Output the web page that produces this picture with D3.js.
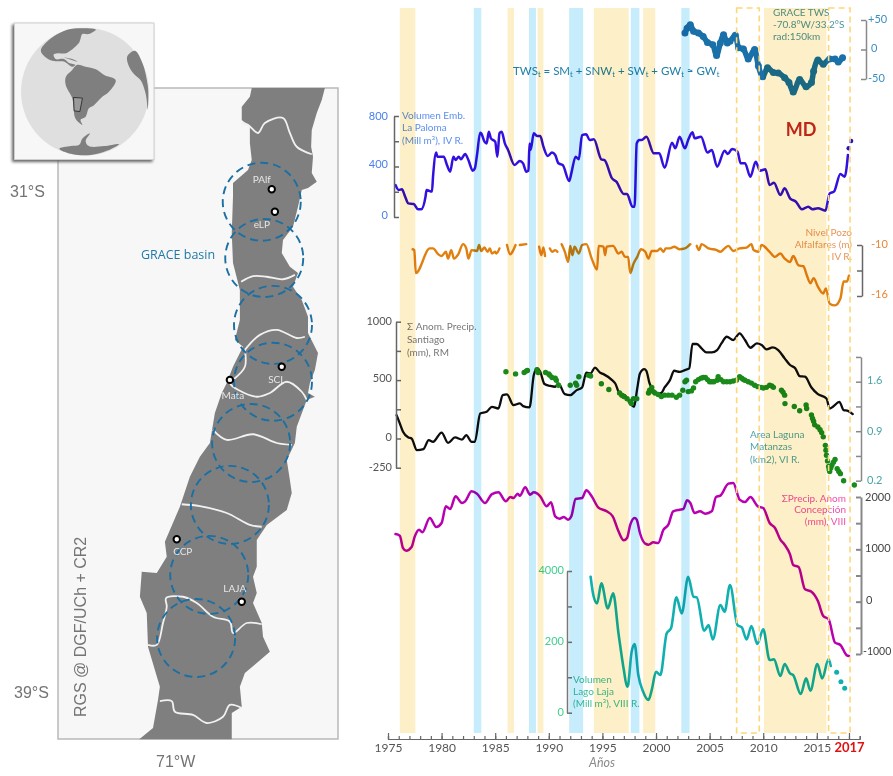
<!DOCTYPE html>
<html><head><meta charset="utf-8">
<script src="https://cdn.jsdelivr.net/npm/d3@7/dist/d3.min.js"></script>
<style>html,body{margin:0;padding:0;background:#fff}svg{display:block;filter:blur(0.4px)}text{font-family:Lato,"Open Sans",sans-serif}</style>
</head><body><div id="c"></div>
<script>
// ---------- time-series data (year, value) ----------
const palomaYears=[1975.7,1976,1976.3,1976.6,1976.9,1977.4,1977.8,1978.1,1978.5,1978.6,1979.1,1979.2,1979.5,1979.6,1980.2,1980.5,1980.8,1981.1,1981.3,1981.6,1981.8,1982.2,1982.5,1982.9,1983.1,1983.3,1983.6,1983.7,1984,1984.2,1984.4,1984.6,1985,1985.2,1985.4,1985.6,1985.9,1986.2,1986.8,1987.3,1987.6,1987.9,1988.1,1988.2,1988.3,1988.6,1988.9,1989.2,1989.5,1989.9,1990.3,1990.6,1990.9,1991.3,1991.9,1992.1,1992.5,1992.8,1993.1,1993.5,1993.8,1994.2,1994.9,1995.2,1995.9,1996.3,1997,1997.3,1997.8,1998,1998.2,1998.45,1998.66,1999.1,1999.8,2000.3,2000.8,2001.5,2001.8,2002.2,2002.7,2003,2003.4,2003.6,2004.2,2004.8,2005.2,2005.7,2006.4,2006.7,2007.1,2007.6,2007.9,2008.3,2008.8,2009.3,2009.7,2010.2,2010.6,2011,2011.6,2012,2012.5,2013.05,2013.6,2014.2,2014.6,2015.1,2015.8,2016.2,2016.6,2017.2,2017.6,2017.9];
const palomaValues=[253,214,219,161,108,103,61,61,161,214,201,319,510,478,478,412,359,478,451,478,457,499,451,367,385,491,668,663,597,583,676,623,597,478,663,676,583,531,412,444,425,359,367,583,531,663,642,642,557,483,510,491,425,412,285,346,478,457,649,655,610,615,457,451,306,280,182,182,82,82,583,610,610,636,504,504,391,589,544,636,544,610,671,623,636,510,531,399,525,499,539,517,425,425,319,438,367,378,253,272,174,227,148,121,61,82,61,69,50,187,201,341,319,491];
const palomaDotYears=[2017.97,2018.2];
const palomaDotValues=[544,602];

const wellYears=[1977.3,1977.45,1977.6,1978.9,1979.2,1979.7,1980,1980.4,1980.6,1980.9,1981.15,1981.55,1982,1982.3,1982.5,1982.8,1983.3,1983.5,1983.7,1984,1984.3,1984.5,1984.7,1985,1985.1,1985.4,1985.7,
 1986.1,1986.4,1986.5,1986.9,1987.1, 1987.3,1987.9,1988.4, 1989.1,1989.3,1989.5,1989.65,1989.9, 1990.1,1990.3,1990.6,1990.8,1991, 1991.2,1991.5,1991.8,1992,1992.2,1992.4,1992.8,1993.1,1993.5,1994,1994.5,1994.65,1995.1,1995.25,1995.4,1996,1996.5,1996.8,1997.1,1997.4,1997.6,1997.9,1998.25,1998.6,1999,1999.3,1999.6,2000.1,2000.4,2000.7,2000.9,2001.3,2001.7,2002.2,2002.7,2003.2,2003.5,
 2003.8,2004,2004.25,2004.9,2005.65,2006,2006.4,2006.75,2007.2,2007.8,2008.45,2008.9,2009.1,2009.55,2009.85,2010.6,2011.1,2011.6,2012,2012.5,2012.8,2013.3,2013.75,2014.05,2014.4,2014.7,2015.1,2015.6,2015.85,2016.2,2016.7,2017.2,2017.5,2017.8,2018];
const wellValues=[-10.5,-10.6,-13.3,-10.4,-10.4,-11.1,-11.3,-10.8,-11.6,-10.6,-11.6,-11.1,-9.9,-10.4,-11.6,-10.6,-10.7,-10,-10.7,-10.3,-10.8,-10.4,-11,-10.8,-11,-10.4,null,
 -10,-11.1,-11,-10,null, -10,-9.9,null, -10.2,-11.2,-10.3,-11.3,null, -10.4,-10.8,-10.6,-10.8,null, -9.9,-10.8,-12,-10.1,-11.2,-10.2,-11,-10,-9.9,-11.6,-12.9,-10.1,-10.2,-11.2,-10.2,-10.1,-11,-10.8,-11.4,-11.4,-13.3,-12.2,-11.4,-10.5,-10.8,-11.6,-10.7,-10.7,-10.4,-10.8,-10.4,-10.4,-10.2,-10.5,-10.4,-9.9,null,
 -10.1,-10.6,-9.9,-10.4,-10.6,-10.8,-10.4,-10.1,-10.7,-10.4,-10.3,-9.9,-10.6,-10.8,-10,-10.8,-11.4,-11,-11.6,-12,-11.3,-12.4,-12.5,-13.5,-14.5,-13.9,-14.9,-15.7,-15.1,-16.9,-17.1,-16.3,-14.3,-14.3,-13.6];

const santiagoYears=[1975.8,1976.1,1976.4,1976.9,1977.2,1977.7,1978.3,1978.8,1979.2,1980,1980.6,1981.25,1981.9,1982.3,1982.8,1983.1,1983.6,1984.2,1984.7,1985.3,1985.7,1986.1,1986.7,1987.3,1987.6,1988.2,1988.6,1988.9,1989.2,1989.6,1990.1,1990.6,1990.9,1991.5,1992,1992.6,1993.1,1993.5,1993.9,1994.3,1994.8,1995.1,1995.9,1996.2,1996.6,1997.1,1997.6,1997.95,1998.25,1998.5,1998.9,1999.1,1999.4,1999.7,2000.1,2000.5,2000.8,2001.3,2001.7,2002.2,2002.7,2003.1,2003.4,2003.8,2004.25,2004.7,2005.2,2005.7,2006.1,2006.6,2007.2,2007.8,2008.3,2008.8,2009.4,2009.85,2010.3,2010.9,2011.4,2012,2012.5,2013,2013.4,2013.9,2014.5,2015.1,2015.9,2016.2,2016.5,2017.1,2017.5,2017.9,2018.35];
const santiagoValues=[200,129,57,9,0,-100,-91,-14,-29,51,-37,9,-9,29,-29,-29,214,229,271,257,371,377,286,300,277,266,543,600,571,466,451,443,471,380,371,414,437,563,557,606,563,551,500,471,386,371,300,271,429,557,594,580,471,414,386,391,437,500,580,571,586,600,809,809,771,737,737,757,814,871,843,900,843,777,814,800,763,780,757,686,629,600,534,529,437,380,343,257,271,314,243,237,209];

const matanzasYears=[1986,1986.9,1987.7,1987.9,1988,1988.9,1989,1989.7,1990,1990.1,1990.3,1990.6,1990.7,1990.9,1992,1992.5,1992.6,1992.8,1993.7,1993.9,1994.9,1995.6,1996.6,1996.8,1997,1997.3,1997.6,1997.7,1997.9,1998.2,1999.3,1999.4,1999.6,1999.75,1999.9,2000.2,2000.5,2000.8,2001.15,2001.5,2001.9,2002.2,2002.5,2002.7,2002.85,2003,2003.3,2003.5,2003.7,2003.95,2004.2,2004.4,2004.6,2004.8,2005,2005.2,2005.4,2005.7,2005.8,2006.05,2006.3,2006.6,2006.9,2007.2,2007.5,2007.8,2008,2008.15,2008.3,2008.6,2008.9,2009.2,2009.5,2009.8,2010,2010.3,2010.6,2010.8,2010.95,2011.7,2011.85,2012,2012.03,2012.9,2013.4,2014,2014.05,2014.5,2014.6,2014.7,2014.8,2015.1,2015.3,2015.45,2015.6,2015.8,2015.85,2015.9,2016,2016.1,2016.15,2016.2,2016.3,2016.4,2016.55,2016.7,2016.9,2017.05,2017.2,2017.5,2018.5];
const matanzasValues=[1.74,1.71,1.73,1.75,1.76,1.77,1.73,1.73,1.71,1.69,1.66,1.65,1.62,1.55,1.55,1.58,1.55,1.67,1.69,1.68,1.57,1.49,1.44,1.41,1.39,1.36,1.32,1.29,1.36,1.36,1.44,1.48,1.52,1.46,1.44,1.42,1.39,1.41,1.41,1.41,1.38,1.41,1.48,1.6,1.62,1.46,1.47,1.51,1.6,1.63,1.65,1.66,1.66,1.63,1.6,1.6,1.6,1.62,1.67,1.63,1.6,1.6,1.6,1.61,1.62,1.67,1.65,1.63,1.62,1.6,1.58,1.55,1.53,1.52,1.51,1.52,1.55,1.54,1.52,1.48,1.45,1.41,1.29,1.25,1.19,1.27,1.22,1.13,1.08,1.04,0.99,0.96,0.92,0.88,0.82,0.7,0.63,0.56,0.48,0.4,0.36,0.33,0.38,0.42,0.46,0.5,0.37,0.33,0.3,0.2,0.14];

const concepcionYears=[1975.7,1976.1,1976.4,1976.7,1977.2,1977.5,1977.9,1978.2,1978.9,1979.5,1980,1980.4,1980.8,1981.3,1981.9,1982.2,1982.8,1983.3,1984.05,1984.7,1985.3,1986,1986.4,1986.7,1987.1,1987.3,1987.8,1988.25,1988.6,1989.2,1989.8,1990.2,1990.6,1991,1991.4,1991.8,1992.1,1992.5,1993.1,1993.5,1994,1994.6,1995.4,1995.96,1996.5,1997,1997.3,1997.6,1998,1998.2,1998.5,1999,1999.3,1999.75,2000.2,2000.7,2001.15,2001.6,2002.2,2002.55,2002.9,2003.2,2003.6,2004.1,2004.6,2005.2,2005.6,2006,2006.75,2007.2,2007.8,2008.3,2008.8,2009.5,2010,2010.6,2011.1,2011.6,2012,2012.5,2012.8,2013.3,2013.9,2014.5,2015.1,2015.6,2016.1,2016.7,2017.2,2017.8,2018];
const concepcionValues=[1293,1261,1025,974,1045,1248,1376,1325,1599,1427,1503,1822,1771,2013,1885,1917,2108,2064,1885,2057,2089,1917,2000,1981,2064,2025,2185,2045,2089,2013,1822,1898,1631,1586,1618,1567,1631,1962,1981,2127,2013,1803,1726,1631,1344,1172,1216,1471,1599,1567,1312,1108,1089,1134,1121,1376,1471,1726,1758,1771,1936,1885,1694,1726,1682,1726,2000,2025,2255,2268,1949,1904,2000,1822,1790,1503,1408,1185,1089,904,701,662,236,191,13,-274,-338,-783,-828,-1026,-1038];

const lajaYears=[1993.9,1994.15,1994.5,1994.9,1995.5,1996,1996.5,1997,1997.3,1997.4,1997.7,1998,1998.35,1998.8,1999.3,1999.6,2000,2000.4,2001,2001.4,2001.9,2002.4,2003,2003.5,2003.8,2004.5,2004.9,2005.3,2006,2006.4,2006.9,2007.6,2008,2008.45,2008.9,2009.45,2010,2010.6,2011,2011.6,2012,2012.5,2012.8,2013.5,2014,2014.4,2015.05,2015.5,2016.1,2016.3];
const lajaValues=[3839,3322,3086,3651,2945,3369,2240,1204,734,781,1675,1938,1063,593,358,640,1157,1063,2240,2381,3256,2804,3839,3275,3256,2315,2475,2070,3039,2851,3604,2475,2409,2070,2447,1938,2353,1487,1506,1035,1374,1110,1063,527,969,621,1374,969,1515,1317];
const lajaDotYears=[2016.85,2017.25,2017.6];
const lajaDotValues=[1139,875,687];

const graceYears=[2002.7,2002.9,2003.2,2003.5,2003.95,2004.4,2004.8,2005.3,2005.65,2006,2006.3,2006.65,2006.9,2007.4,2007.7,2008.15,2008.6,2009.2,2009.55,2009.95,2010.4,2010.95,2011.4,2012,2012.4,2012.8,2013.4,2014,2014.5,2014.7,2015.1,2015.6,2016.2,2016.7,2017,2017.4];
const graceValues=[28,36,42,31,28,22,12,8,-10,11,25,11,14,24,3,1,-16,0,-28,-46,-31,-39,-40,-48,-56,-72,-51,-63,-56,-37,-18,-25,-16,-16,-21,-14];

// ---------- event bands (start year, end year) ----------
const dryBandStarts=[1976.1,1986.15,1988.95,1994.2,1998.8,2010.07];
const dryBandEnds=[1977.55,1986.75,1989.5,1997.45,1999.93,2015.9];
const wetBandStarts=[1983.0,1988.15,1991.9,1997.65,2002.36];
const wetBandEnds=[1983.7,1988.8,1993.2,1998.45,2003.13];
const dashedBoxStarts=[2007.52,2016.1];
const dashedBoxEnds=[2009.63,2018.1];

// ---------- tick labels ----------
const xLabelYears=[1975,1980,1985,1990,1995,2000,2005,2010,2015,2018];
const xLabels=["1975","1980","1985","1990","1995","2000","2005","2010","2015","2017"];

// ---------- map data (lon, lat) ----------
const chileOutline=[[-69.82,-29.32],[-68.65,-29.32],[-68.70,-29.51],[-68.78,-29.72],[-68.86,-29.99],[-68.87,-30.26],[-68.84,-30.42],[-68.86,-30.68],[-68.78,-30.82],[-68.92,-30.92],[-69.02,-30.95],[-69.08,-31.22],[-69.16,-31.54],[-69.32,-31.75],[-69.34,-31.96],[-69.21,-32.18],[-69.08,-32.28],[-69.16,-32.50],[-69.02,-32.71],[-68.92,-32.98],[-68.92,-33.24],[-68.81,-33.46],[-68.76,-33.56],[-68.81,-33.83],[-68.89,-34.04],[-68.92,-34.20],[-68.81,-34.26],[-68.94,-34.31],[-69.10,-34.74],[-69.13,-35.00],[-69.26,-35.27],[-69.21,-35.59],[-69.18,-35.80],[-69.26,-36.07],[-69.58,-36.31],[-69.74,-36.55],[-69.74,-36.98],[-69.80,-37.14],[-69.74,-37.40],[-69.80,-37.56],[-69.66,-37.88],[-69.64,-38.10],[-69.53,-38.34],[-69.74,-38.52],[-69.93,-38.68],[-70.01,-38.90],[-69.98,-39.22],[-70.14,-39.32],[-70.14,-39.74],[-71.62,-39.74],[-71.40,-39.56],[-71.32,-39.11],[-71.29,-38.90],[-71.37,-38.63],[-71.48,-38.26],[-71.50,-37.72],[-71.61,-37.46],[-71.58,-37.06],[-71.34,-37.08],[-71.18,-36.82],[-71.21,-36.58],[-70.97,-36.02],[-70.81,-35.54],[-70.65,-35.22],[-70.49,-35.00],[-70.41,-34.52],[-70.30,-34.20],[-70.22,-34.04],[-70.12,-33.78],[-69.96,-33.46],[-70.09,-33.35],[-70.01,-33.03],[-70.01,-32.55],[-70.12,-32.12],[-70.14,-31.64],[-70.12,-31.06],[-70.12,-30.84],[-69.88,-30.63],[-69.82,-30.47],[-69.85,-30.20],[-69.85,-29.94],[-69.98,-29.83],[-69.98,-29.62],[-69.85,-29.46]];
const regionBorders=[
 [[-69.98,-29.88],[-69.88,-29.91],[-69.72,-30.04],[-69.61,-29.88],[-69.32,-29.80],[-69.21,-30.04],[-69.10,-30.26],[-68.86,-30.38]],
 [[-69.99,-32.42],[-69.80,-32.33],[-69.58,-32.34],[-69.32,-32.38],[-69.13,-32.31]],
 [[-69.93,-33.51],[-69.69,-33.27],[-69.42,-33.19],[-69.10,-33.32],[-68.97,-33.30]],
 [[-69.93,-33.51],[-69.93,-33.78],[-70.12,-33.99]],
 [[-70.17,-34.04],[-70.12,-34.10],[-69.74,-34.26],[-69.53,-34.20],[-69.26,-34.02],[-69.02,-34.18],[-68.94,-34.31]],
 [[-70.44,-34.79],[-70.22,-34.95],[-69.80,-34.86],[-69.42,-35.00],[-69.18,-35.03]],
 [[-70.94,-35.98],[-70.65,-36.01],[-70.22,-36.12],[-69.85,-36.31],[-69.66,-36.34]],
 [[-71.48,-38.23],[-71.34,-38.23],[-71.24,-37.88],[-71.18,-37.62],[-71.19,-37.48],[-70.92,-37.46],[-70.70,-37.56],[-70.44,-37.78],[-70.17,-37.86],[-70.12,-38.04],[-69.90,-37.88],[-69.66,-37.90]],
 [[-71.29,-39.13],[-71.10,-39.13],[-71.05,-39.30],[-70.76,-39.35],[-70.54,-39.48],[-70.28,-39.38],[-70.17,-39.19],[-69.98,-39.24]]
];
const graceCircleLons=[-69.66,-69.62,-69.48,-69.48,-69.83,-70.17,-70.50,-70.71];
const graceCircleLats=[-31.14,-32.04,-33.11,-34.02,-35.00,-35.99,-37.11,-38.12];
const graceRadiusDeg=0.624;
const stationNames=["PAlf","eLP","SCL","Mata","CCP","LAJA"];
const stationLons=[-69.50,-69.45,-69.34,-70.17,-71.02,-69.98];
const stationLats=[-30.94,-31.30,-33.78,-33.99,-36.54,-37.54];
const stationDx=[-10,-13,-5,3,6,-7];
const stationDy=[-9,14,14,17,13,-12];

// globe outlines, in unit-disc coordinates
const southAmerica=[[-.04,-.52],[-.15,-.42],[-.18,-.23],[-.20,-.10],[-.30,.10],[-.30,.23],[-.20,.34],[-.12,.42],[.01,.39],[.17,.35],[.30,.26],[.48,.18],[.375,0],[.27,-.08],[.14,-.21],[.06,-.26],[.01,-.39],[-.07,-.44]];
const northAmerica=[[-.69,.64],[-.56,.81],[-.33,.95],[-.12,.99],[.17,.97],[.06,.90],[-.04,.90],[-.09,.77],[-.23,.64],[-.30,.60],[-.43,.60],[-.49,.58],[-.46,.51],[-.33,.51],[-.25,.45],[-.15,.42],[-.20,.39],[-.33,.47],[-.48,.48],[-.59,.52]];
const cuba=[[-.33,.54],[-.20,.51],[-.12,.47],[-.22,.50]];
const africa=[[.66,.55],[.78,.64],[.90,.44],[.98,.10],[.99,-.10],[.98,-.28],[.96,-.10],[.94,0],[.87,.18],[.78,.26],[.69,.39]];
const antarctica=[[-.40,-.89],[-.22,-.85],[-.09,-.83],[-.04,-.73],[.08,-.65],[.01,-.77],[.06,-.85],[.30,-.85],[.53,-.82],[.35,-.92],[.09,-.99],[-.22,-.97]];
const studyBox=[[-.18,-.09],[-.04,-.10],[-.08,-.31],[-.17,-.30]];

// ---------- scales ----------
const svg=d3.select("#c").append("svg").attr("width",893).attr("height",776);
svg.append("rect").attr("width",893).attr("height",776).attr("fill","#fff");
const x=d3.scaleLinear().domain([1975,2019]).range([388,859.7]);
const yPaloma=d3.scaleLinear().domain([0,800]).range([217,116]);
const yWell=d3.scaleLinear().domain([-16,-10]).range([296,245]);
const ySantiago=d3.scaleLinear().domain([-250,1000]).range([467.7,321.7]);
const yMatanzas=d3.scaleLinear().domain([0.2,1.6]).range([480.7,381.7]);
const yConcepcion=d3.scaleLinear().domain([-1000,2000]).range([654,497]);
const yLaja=d3.scaleLinear().domain([0,4000]).range([712.7,571]);
const yGrace=d3.scaleLinear().domain([-50,50]).range([79,20]);
const mapX=d3.scaleLinear().domain([-71,-70]).range([178,240.5]);
const mapY=d3.scaleLinear().domain([-31,-39]).range([193,693]);
const discX=d3.scaleLinear().domain([-1,1]).range([21,149]);
const discY=d3.scaleLinear().domain([-1,1]).range([155.7,27.7]);

// ---------- map panel ----------
const gray="#7f7f7f";
svg.append("rect").attr("x",58).attr("y",88).attr("width",280).attr("height",651)
  .attr("fill","#f7f7f7").attr("stroke","#b9b9b9").attr("stroke-width",1.5);
const mapLine=d3.line().x(d=>mapX(d[0])).y(d=>mapY(d[1]));
svg.append("path").attr("d",mapLine(chileOutline)+"Z").attr("fill",gray);
const borderLine=d3.line().x(d=>mapX(d[0])).y(d=>mapY(d[1])).curve(d3.curveCatmullRom);
svg.append("g").selectAll("path").data(regionBorders).join("path")
  .attr("d",borderLine).attr("fill","none").attr("stroke","#f1f1f1").attr("stroke-width",1.8);
svg.append("g").selectAll("circle").data(graceCircleLons).join("circle")
  .attr("cx",d=>mapX(d)).attr("cy",(d,i)=>mapY(graceCircleLats[i]))
  .attr("r",mapY(-31-graceRadiusDeg)-mapY(-31))
  .attr("fill","none").attr("stroke","#1a6fa3").attr("stroke-width",1.9).attr("stroke-dasharray","8 5");
svg.append("g").selectAll("circle").data(stationNames).join("circle")
  .attr("cx",(d,i)=>mapX(stationLons[i])).attr("cy",(d,i)=>mapY(stationLats[i]))
  .attr("r",3.2).attr("fill","#fff").attr("stroke","#000").attr("stroke-width",2);
svg.append("g").selectAll("text").data(stationNames).join("text")
  .attr("x",(d,i)=>mapX(stationLons[i])+stationDx[i]).attr("y",(d,i)=>mapY(stationLats[i])+stationDy[i])
  .attr("text-anchor","middle").attr("dominant-baseline","middle")
  .attr("font-size",10).attr("fill","#e6e6e6").text(d=>d);

function t(px,py,s,o={}){
  const e=svg.append("text").attr("x",px).attr("y",py).attr("dominant-baseline","middle")
   .attr("font-size",o.size||10).attr("fill",o.fill||"#555").attr("text-anchor",o.anchor||"start").text(s);
  if(o.weight)e.attr("font-weight",o.weight);
  if(o.italic)e.attr("font-style","italic");
  if(o.font)e.style("font-family",o.font);
  return e;
}
const arial="'Liberation Sans',Arial,sans-serif";
t(10,193,"31°S",{size:16,fill:"#747474",font:arial});
t(14,694,"39°S",{size:16,fill:"#747474",font:arial});
t(156,763,"71°W",{size:16,fill:"#747474",font:arial});
t(141,256,"GRACE basin",{size:12.5,fill:"#1f78a8",font:"'Open Sans',sans-serif"});
t(0,0,"RGS @ DGF/UCh + CR2",{size:16,fill:"#747474",font:arial}).attr("transform","translate(82,717) rotate(-90)");

// inset globe
svg.append("rect").attr("x",14.5).attr("y",23).attr("width",139.5).attr("height",136.5)
  .attr("fill","#f7f7f7").attr("stroke","#cfcfcf").attr("stroke-width",1)
  .style("filter","drop-shadow(-1.5px 2px 1.5px #666)");
svg.append("circle").attr("cx",discX(0)).attr("cy",discY(0)).attr("r",discX(1)-discX(0)).attr("fill","#dfdfdf");
const discLand=d3.line().x(d=>discX(d[0])).y(d=>discY(d[1])).curve(d3.curveCatmullRomClosed.alpha(0.5));
[northAmerica,cuba,southAmerica,africa,antarctica].forEach(r=>{
  svg.append("path").attr("d",discLand(r)).attr("fill",gray);
});
const discBox=d3.line().x(d=>discX(d[0])).y(d=>discY(d[1]));
svg.append("path").attr("d",discBox(studyBox)+"Z").attr("fill","#9a9a9a").attr("stroke","#2d2d2d").attr("stroke-width",0.9);

// ---------- series ----------
function series(years,values,yS,color,width){
  const pts=years.map((yr,i)=>[yr,values[i]]);
  const ln=d3.line().defined(d=>d[1]!==null).x(d=>x(d[0])).y(d=>yS(d[1])).curve(d3.curveMonotoneX);
  return svg.append("path").attr("d",ln(pts)).attr("fill","none").attr("stroke",color)
    .attr("stroke-width",width).attr("stroke-linejoin","round").attr("stroke-linecap","round");
}
function dots(years,values,yS,color,r){
  svg.append("g").selectAll("circle").data(years).join("circle")
    .attr("cx",d=>x(d)).attr("cy",(d,i)=>yS(values[i])).attr("r",r).attr("fill",color);
}
series(graceYears,graceValues,yGrace,"#1a70a8",5.5);
dots(graceYears,graceValues,yGrace,"#1a70a8",3.5);
series(palomaYears,palomaValues,yPaloma,"#3410e0",2.5);
dots(palomaDotYears,palomaDotValues,yPaloma,"#2010d0",2.2);
series(wellYears,wellValues,yWell,"#e0800f",2.4);
series(santiagoYears,santiagoValues,ySantiago,"#0d0d0d",2.3);
dots(matanzasYears,matanzasValues,yMatanzas,"#1a8a1a",2.7);
series(concepcionYears,concepcionValues,yConcepcion,"#b800b0",2.5);
series(lajaYears,lajaValues,yLaja,"#10b0b0",2.6);
dots(lajaDotYears,lajaDotValues,yLaja,"#10b0b0",2.5);

// ---------- axes ----------
function vAxis(px,yS,vals,side,color,width){
  const ax=(side>0?d3.axisRight(yS):d3.axisLeft(yS)).tickValues(vals).tickSize(5).tickSizeOuter(0).tickFormat("");
  const g=svg.append("g").attr("transform",`translate(${px},0)`).call(ax);
  g.selectAll("path,line").attr("stroke",color||"#666").attr("stroke-width",width||1.5);
}
vAxis(394,yPaloma,[0,200,400,600,800],1);
vAxis(396,ySantiago,[-250,0,250,500,750,1000],1);
vAxis(862,yWell,[-16,-13,-10],-1);
vAxis(866,yGrace,[-50,0,50],-1,"#888");
const matanzasAxisTop=1.95;
vAxis(861,yMatanzas.copy().domain([0.2,matanzasAxisTop]).range([yMatanzas(0.2),yMatanzas(matanzasAxisTop)]),[0.2,0.55,0.9,1.25,1.6,1.95],-1,"#888");
vAxis(861,yConcepcion,[-1000,-500,0,500,1000,1500,2000],-1,"#888",2);
vAxis(567,yLaja,[0,1000,2000,3000,4000],1,"#777");

const xAxisY=739;
const minor=d3.axisTop(x).tickValues(d3.range(1975,2020)).tickSize(3).tickFormat("");
const gm=svg.append("g").attr("transform",`translate(0,${xAxisY})`).call(minor);
gm.selectAll("path,line").attr("stroke","#666").attr("stroke-width",1.2);
const major=d3.axisTop(x).tickValues(xLabelYears).tickSize(6).tickSizeOuter(0).tickFormat("");
const gM=svg.append("g").attr("transform",`translate(0,${xAxisY})`).call(major);
gM.select(".domain").remove();
gM.selectAll("line").attr("stroke","#666").attr("stroke-width",1.2);
const lab=d3.axisBottom(x).tickValues(xLabelYears).tickSize(0).tickPadding(4).tickFormat((d,i)=>xLabels[i]);
const gL=svg.append("g").attr("transform",`translate(0,${xAxisY})`).call(lab);
gL.select(".domain").remove();
gL.selectAll("text").attr("font-size",12).attr("fill","#555").style("font-family","Lato");
gL.selectAll("text").filter((d,i)=>i===xLabels.length-1).attr("fill","#e01010").attr("font-weight","bold").attr("font-size",13);
t(602,764,"Años",{size:12.5,fill:"#8a8a8a",italic:true,anchor:"middle"});

// axis numbers
const lb="#4a80ee";
t(388,117,"800",{fill:lb,anchor:"end",size:11});t(388,165,"400",{fill:lb,anchor:"end",size:11});t(388,216,"0",{fill:lb,anchor:"end",size:11});
t(392,322,"1000",{anchor:"end",size:11});t(392,379,"500",{anchor:"end",size:11});t(392,438,"0",{anchor:"end",size:11});t(392,468,"-250",{anchor:"end",size:11});
t(871,245,"-10",{fill:"#e8863a",size:11});t(871,295,"-16",{fill:"#e8863a",size:11});
t(868,20,"+50",{fill:"#3a8fc0",size:11});t(871,49,"0",{fill:"#3a8fc0",size:11});t(868,79,"-50",{fill:"#3a8fc0",size:11});
t(867,381.7,"1.6",{fill:"#4aa3a8",size:11});t(867,432,"0.9",{fill:"#4aa3a8",size:11});t(867,481,"0.2",{fill:"#4aa3a8",size:11});
t(865,498,"2000",{fill:"#444",size:11});t(865,549,"1000",{fill:"#444",size:11});t(866,601,"0",{fill:"#444",size:11});t(863,652,"-1000",{fill:"#444",size:10.5});
t(564,571,"4000",{fill:"#3fcf8e",anchor:"end",size:11});t(564,642,"200",{fill:"#3fcf8e",anchor:"end",size:11});t(564,713,"0",{fill:"#3fcf8e",anchor:"end",size:11});

// annotations
const eq=t(513,72,"",{size:11.5,fill:"#1f7fa8"});
[["TWS",1],["t",0],[" = SM",1],["t",0],[" + SNW",1],["t",0],[" + SW",1],["t",0],[" + GW",1],["t",0],[" ≈ GW",1],["t",0]].forEach(([s,n])=>{
  const ts=eq.append("tspan").text(s);
  if(!n)ts.attr("font-size",7.5).attr("dy",3); else ts.attr("dy",eq.selectAll("tspan").size()>1?-3:0);
});
["GRACE TWS","-70.8°W/33.2°S","rad:150km"].forEach((s,i)=>t(773,13+i*12,s,{fill:"#4f95a0",size:10}));
t(801,131,"MD",{size:18,weight:"bold",fill:"#c0281e",anchor:"middle"});
["Volumen Emb.","La Paloma","(Mill m³), IV R."].forEach((s,i)=>t(402,116.5+i*12.3,s,{fill:"#5b8ff0"}));
["Nivel Pozo","Alfalfares (m)","IV R."].forEach((s,i)=>t(852,233+i*12.3,s,{fill:"#e8955a",anchor:"end"}));
["Σ Anom. Precip.","Santiago","(mm), RM"].forEach((s,i)=>t(407,327+i*13,s,{fill:"#777"}));
["Area Laguna","Matanzas","(km2), VI R."].forEach((s,i)=>t(750,435+i*12.5,s,{fill:"#4fa3a8"}));
["ΣPrecip. Anom","Concepción","(mm), VIII"].forEach((s,i)=>t(846,499+i*11.8,s,{fill:"#ee4fae",anchor:"end"}));
["Volumen","Lago Laja","(Mill m³), VIII R."].forEach((s,i)=>t(573,680+i*12,s,{fill:"#3cbf9a"}));

// ---------- bands over everything, tinted like overlays ----------
const bandTop=8,bandBottom=733;
const bands=svg.append("g").style("mix-blend-mode","multiply");
bands.selectAll(".dry").data(dryBandStarts).join("rect").attr("class","dry")
  .attr("x",d=>x(d)).attr("width",(d,i)=>x(dryBandEnds[i])-x(d)).attr("y",bandTop).attr("height",bandBottom-bandTop).attr("fill","#fdefc8");
bands.selectAll(".wet").data(wetBandStarts).join("rect").attr("class","wet")
  .attr("x",d=>x(d)).attr("width",(d,i)=>x(wetBandEnds[i])-x(d)).attr("y",bandTop).attr("height",bandBottom-bandTop).attr("fill","#c7ecfb");
svg.append("g").selectAll("rect").data(dashedBoxStarts).join("rect")
  .attr("x",d=>x(d)).attr("width",(d,i)=>x(dashedBoxEnds[i])-x(d)).attr("y",bandTop).attr("height",bandBottom-bandTop)
  .attr("fill","none").attr("stroke","#fdd87a").attr("stroke-width",1.6).attr("stroke-dasharray","6 4");
</script></body></html>
